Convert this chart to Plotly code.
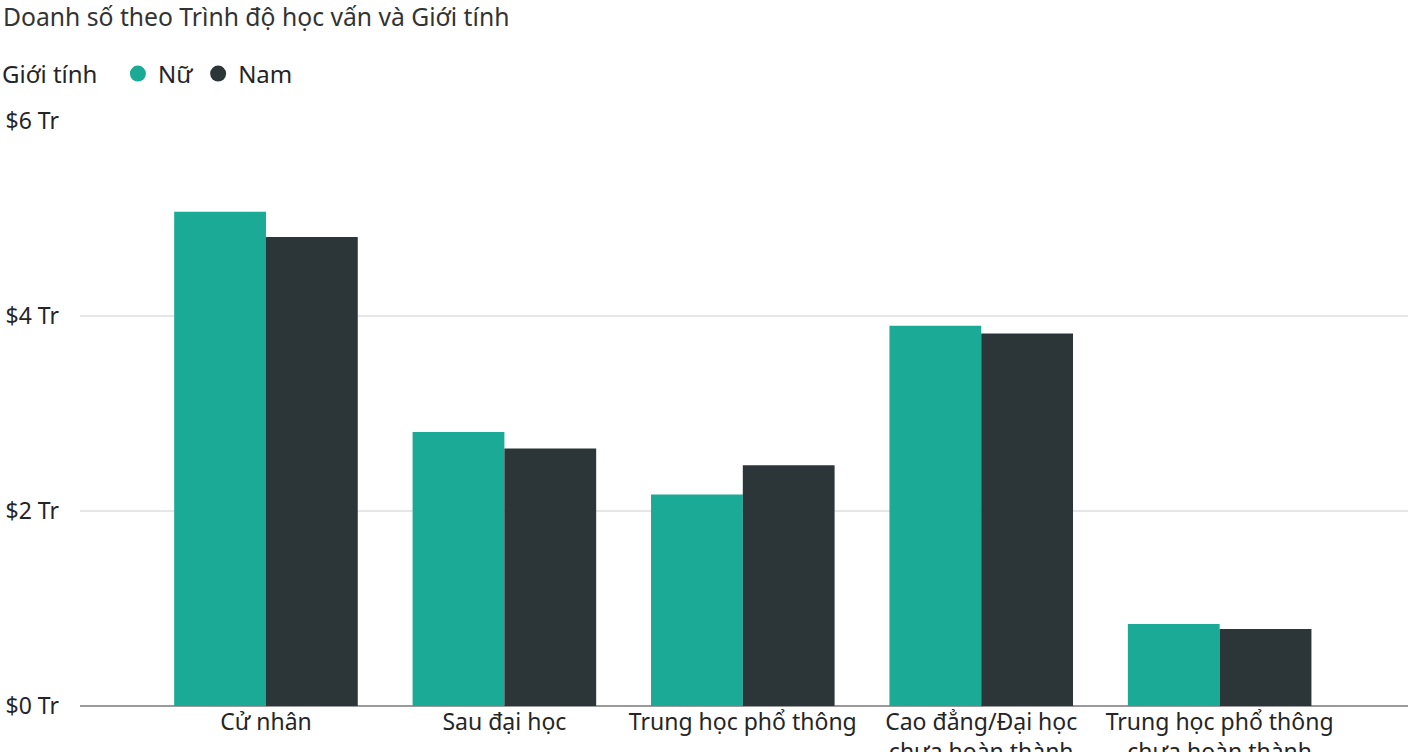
import plotly.graph_objects as go

# Doanh số (Tr) theo trình độ học vấn và giới tính
categories = [
    "Cử nhân",
    "Sau đại học",
    "Trung học phổ thông",
    "Cao đẳng/Đại học<br>chưa hoàn thành",
    "Trung học phổ thông<br>chưa hoàn thành",
]
nu = [5.07, 2.81, 2.17, 3.90, 0.84]
nam = [4.81, 2.64, 2.47, 3.82, 0.79]

tick_vals = [0, 2, 4, 6]
tick_text = ["$0 Tr", "$2 Tr", "$4 Tr", "$6 Tr"]

teal = "#1BAA96"
dark = "#2C3638"
font = "Noto Sans"

fig = go.Figure()
fig.add_trace(go.Bar(x=categories, y=nu, name="Nữ", marker_color=teal,
                     marker_line_width=0, showlegend=False))
fig.add_trace(go.Bar(x=categories, y=nam, name="Nam", marker_color=dark,
                     marker_line_width=0, showlegend=False))

# legend with round markers
for name, col in [("Nữ", teal), ("Nam", dark)]:
    fig.add_trace(go.Scatter(x=[None], y=[None], mode="markers", name=name,
                             marker=dict(color=col, size=23, symbol="circle")))

fig.update_layout(
    width=1408, height=752,
    paper_bgcolor="white", plot_bgcolor="white",
    font=dict(family=font, size=22, color="#252525"),
    title=dict(text="Doanh số theo Trình độ học vấn và Giới tính",
               xref="container", yref="container", x=0.0, y=1 - 17 / 752,
               xanchor="left", yanchor="middle", pad=dict(l=3),
               font=dict(size=24.7, color="#333333")),
    legend=dict(orientation="h", xref="container", yref="container",
                x=0.0, y=1 - 74 / 752, xanchor="left", yanchor="middle",
                title=dict(text="Giới tính  ", font=dict(size=24)),
                font=dict(size=24), itemsizing="trace", tracegroupgap=0,
                itemwidth=30),
    margin=dict(l=80, r=0, t=121, b=46),
    barmode="group", bargap=0.23, bargroupgap=0,
    showlegend=True,
)
fig.update_xaxes(range=[-0.78, 4.79], showgrid=False, showline=False,
                 automargin=False, ticks="",
                 tickfont=dict(size=23, color="#252525"))
fig.update_yaxes(range=[0, 6], tickvals=tick_vals, ticktext=tick_text,
                 automargin=False,
                 showgrid=True, gridcolor="#E6E6E6", gridwidth=2,
                 zeroline=True, zerolinecolor="#9A9A9A", zerolinewidth=2,
                 ticklabelstandoff=20, tickfont=dict(size=23, color="#252525"))

fig.write_html("out.html", config={"displayModeBar": False},
               post_script="document.body.style.margin='0px';")
